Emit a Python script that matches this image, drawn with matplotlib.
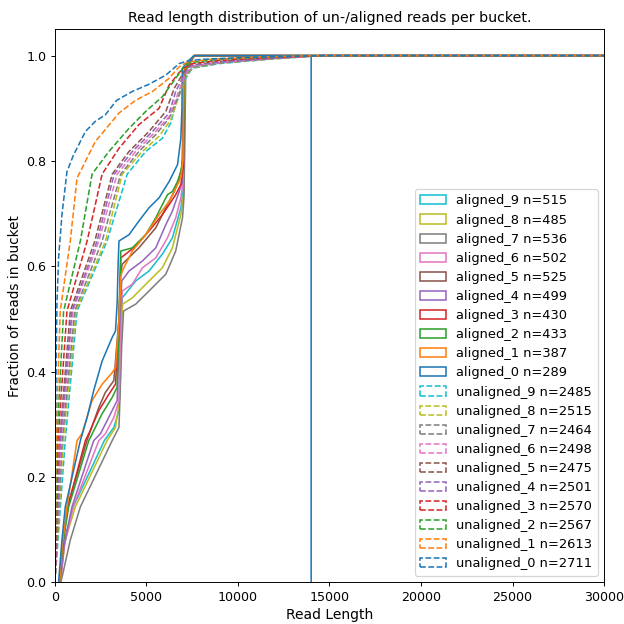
import numpy as np
import matplotlib
matplotlib.use('Agg')
import matplotlib.pyplot as plt
from matplotlib.patches import Patch

# reads per bucket
aligned_n = [289, 387, 433, 430, 499, 525, 502, 536, 485, 515]
unaligned_n = [2711, 2613, 2567, 2570, 2501, 2475, 2498, 2464, 2515, 2485]

# cumulative fraction of reads vs read length
a0_len = [200, 385, 565, 1390, 1760, 2120, 2580, 3130, 3310, 3400, 3450, 3500, 4050, 4590, 5140, 5690, 6240, 6700, 6880, 6940, 6960, 7340, 7600, 14000, 14000]
a0_frac = [0, 0.08, 0.143, 0.269, 0.313, 0.364, 0.420, 0.465, 0.477, 0.53, 0.60, 0.648, 0.660, 0.686, 0.711, 0.730, 0.761, 0.793, 0.843, 0.90, 0.976, 0.992, 1.0, 1.0, 0]
a1_len = [250, 400, 660, 1210, 1480, 2030, 2580, 3130, 3310, 3500, 3600, 3680, 4230, 4960, 5690, 6240, 6700, 6880, 6990, 7050, 7350, 7600, 40000]
a1_frac = [0, 0.07, 0.143, 0.269, 0.282, 0.345, 0.376, 0.398, 0.408, 0.50, 0.58, 0.591, 0.629, 0.660, 0.698, 0.723, 0.755, 0.768, 0.80, 0.97, 0.99, 1.0, 1.0]
a2_len = [250, 420, 750, 1850, 1940, 2580, 3130, 3400, 3500, 3600, 4230, 4960, 5510, 5870, 6150, 6420, 6700, 6880, 7020, 7070, 7400, 7600, 40000]
a2_frac = [0, 0.07, 0.143, 0.269, 0.275, 0.320, 0.351, 0.370, 0.50, 0.629, 0.635, 0.660, 0.692, 0.717, 0.736, 0.742, 0.761, 0.780, 0.81, 0.97, 0.99, 1.0, 1.0]
a3_len = [250, 420, 700, 1665, 1850, 2400, 2950, 3310, 3500, 3600, 4410, 5140, 5870, 6240, 6600, 6880, 7020, 7070, 7400, 7600, 40000]
a3_frac = [0, 0.07, 0.143, 0.269, 0.282, 0.326, 0.357, 0.376, 0.50, 0.616, 0.638, 0.667, 0.698, 0.717, 0.736, 0.755, 0.79, 0.97, 0.99, 1.0, 1.0]
a4_len = [280, 500, 930, 2120, 2490, 3040, 3400, 3550, 3650, 4050, 4780, 5510, 6060, 6420, 6790, 6950, 7080, 7400, 7600, 40000]
a4_frac = [0, 0.07, 0.143, 0.269, 0.282, 0.320, 0.345, 0.50, 0.572, 0.591, 0.610, 0.635, 0.679, 0.705, 0.742, 0.76, 0.97, 0.99, 1.0, 1.0]
a5_len = [250, 420, 680, 1750, 2400, 2750, 3220, 3500, 3600, 3680, 4590, 5510, 6060, 6520, 6790, 6950, 7050, 7400, 7600, 40000]
a5_frac = [0, 0.07, 0.143, 0.269, 0.332, 0.36, 0.383, 0.50, 0.59, 0.604, 0.635, 0.673, 0.711, 0.742, 0.768, 0.79, 0.97, 0.99, 1.0, 1.0]
a6_len = [300, 520, 1000, 2400, 2760, 3220, 3500, 3600, 3680, 4230, 4780, 5510, 6150, 6600, 6880, 7000, 7100, 7400, 7600, 40000]
a6_frac = [0, 0.07, 0.143, 0.269, 0.282, 0.313, 0.345, 0.50, 0.553, 0.566, 0.597, 0.616, 0.654, 0.692, 0.730, 0.76, 0.97, 0.99, 1.0, 1.0]
a7_len = [330, 840, 1390, 3130, 3500, 3650, 3750, 4410, 5140, 6060, 6600, 6970, 7050, 7150, 7450, 7650, 40000]
a7_frac = [0, 0.08, 0.143, 0.269, 0.294, 0.45, 0.515, 0.528, 0.553, 0.585, 0.629, 0.692, 0.73, 0.97, 0.99, 1.0, 1.0]
a8_len = [300, 560, 1115, 2850, 3310, 3550, 3650, 3700, 4230, 5140, 5870, 6420, 6880, 7050, 7120, 7400, 7600, 40000]
a8_frac = [0, 0.08, 0.143, 0.269, 0.294, 0.35, 0.50, 0.528, 0.540, 0.572, 0.597, 0.635, 0.698, 0.74, 0.97, 0.99, 1.0, 1.0]
a9_len = [300, 520, 1000, 2700, 3220, 3500, 3600, 3680, 4410, 5140, 5870, 6420, 6880, 7030, 7100, 7400, 7600, 40000]
a9_frac = [0, 0.08, 0.143, 0.269, 0.294, 0.326, 0.45, 0.540, 0.572, 0.591, 0.623, 0.654, 0.711, 0.75, 0.97, 0.99, 1.0, 1.0]

u0_len = [0, 20, 110, 201, 384, 660, 1000, 1390, 1665, 2200, 2763, 3370, 4227, 5100, 6056, 6790, 7250, 8000, 10000, 13000, 14500, 40000]
u0_frac = [0, 0.27, 0.528, 0.616, 0.698, 0.78, 0.81, 0.837, 0.856, 0.875, 0.888, 0.915, 0.932, 0.945, 0.963, 0.985, 0.990, 0.993, 0.996, 0.999, 1.0, 1.0]
u1_len = [0, 60, 290, 840, 1210, 1390, 2210, 3500, 4400, 5330, 6240, 6790, 7250, 8500, 11000, 14000, 40000]
u1_frac = [0, 0.27, 0.515, 0.648, 0.768, 0.78, 0.837, 0.891, 0.915, 0.932, 0.957, 0.979, 0.988, 0.993, 0.997, 1.0, 1.0]
u2_len = [0, 110, 475, 1390, 2030, 2950, 4050, 4960, 5870, 6600, 7060, 7400, 9000, 12000, 14000, 40000]
u2_frac = [0, 0.27, 0.515, 0.648, 0.775, 0.818, 0.862, 0.894, 0.922, 0.957, 0.979, 0.987, 0.993, 0.998, 1.0, 1.0]
u3_len = [0, 170, 660, 1760, 2580, 3500, 4590, 5690, 6240, 6790, 7150, 7500, 9000, 12000, 14500, 40000]
u3_frac = [0, 0.27, 0.515, 0.648, 0.775, 0.824, 0.869, 0.900, 0.944, 0.968, 0.979, 0.985, 0.991, 0.997, 1.0, 1.0]
u4_len = [0, 290, 930, 2300, 3240, 4230, 5330, 6240, 6600, 7150, 7450, 9000, 12000, 14500, 40000]
u4_frac = [0, 0.27, 0.515, 0.648, 0.775, 0.818, 0.856, 0.891, 0.932, 0.970, 0.981, 0.988, 0.995, 1.0, 1.0]
u5_len = [0, 260, 840, 2180, 3130, 4050, 5140, 6060, 6520, 7060, 7400, 9000, 12000, 14500, 40000]
u5_frac = [0, 0.27, 0.515, 0.648, 0.775, 0.818, 0.856, 0.894, 0.938, 0.970, 0.982, 0.989, 0.996, 1.0, 1.0]
u6_len = [0, 330, 970, 2400, 3400, 4410, 5420, 6240, 6700, 7150, 7500, 9000, 12000, 14500, 40000]
u6_frac = [0, 0.27, 0.515, 0.648, 0.775, 0.818, 0.853, 0.884, 0.926, 0.967, 0.980, 0.987, 0.995, 1.0, 1.0]
u7_len = [0, 400, 1080, 2580, 3590, 4590, 5510, 6240, 6700, 7150, 7500, 9000, 12000, 14500, 40000]
u7_frac = [0, 0.27, 0.515, 0.648, 0.775, 0.818, 0.850, 0.881, 0.919, 0.963, 0.978, 0.986, 0.995, 1.0, 1.0]
u8_len = [0, 460, 1150, 2760, 3680, 4780, 5690, 6330, 6700, 7150, 7500, 9000, 12000, 14500, 40000]
u8_frac = [0, 0.27, 0.515, 0.648, 0.775, 0.818, 0.847, 0.878, 0.916, 0.960, 0.977, 0.986, 0.994, 1.0, 1.0]
u9_len = [0, 565, 1210, 2850, 3950, 4960, 5870, 6330, 6600, 7150, 7500, 9000, 12000, 14500, 40000]
u9_frac = [0, 0.27, 0.515, 0.648, 0.775, 0.818, 0.843, 0.872, 0.907, 0.957, 0.976, 0.985, 0.994, 1.0, 1.0]

aligned = [(a0_len, a0_frac), (a1_len, a1_frac), (a2_len, a2_frac), (a3_len, a3_frac), (a4_len, a4_frac),
           (a5_len, a5_frac), (a6_len, a6_frac), (a7_len, a7_frac), (a8_len, a8_frac), (a9_len, a9_frac)]
unaligned = [(u0_len, u0_frac), (u1_len, u1_frac), (u2_len, u2_frac), (u3_len, u3_frac), (u4_len, u4_frac),
             (u5_len, u5_frac), (u6_len, u6_frac), (u7_len, u7_frac), (u8_len, u8_frac), (u9_len, u9_frac)]

colors = plt.rcParams['axes.prop_cycle'].by_key()['color']

fig = plt.figure(figsize=(7.2, 7.2), dpi=624 / 7.2)
ax = fig.add_axes([0.088, 0.067, 0.88, 0.886])

handles = []
#aligned buckets, solid
for i in range(9, -1, -1):
    x, y = aligned[i]
    ax.plot(x, y, color=colors[i], lw=1.3)
    handles.append(Patch(facecolor='none', edgecolor=colors[i], lw=1.3,
                         label='aligned_%i n=%i' % (i, aligned_n[i])))
#unaligned buckets, dashed
for i in range(9, -1, -1):
    x, y = unaligned[i]
    ax.plot(x, y, color=colors[i], lw=1.3, ls='--')
    handles.append(Patch(facecolor='none', edgecolor=colors[i], lw=1.3, ls='--',
                         label='unaligned_%i n=%i' % (i, unaligned_n[i])))

ax.set_xlim(0, 30000)
ax.set_ylim(0, 1.05)
ax.tick_params(labelsize=10.5)
ax.set_xlabel('Read Length', fontsize=11.5)
ax.set_ylabel('Fraction of reads in bucket', fontsize=11.3)
ax.set_title('Read length distribution of un-/aligned reads per bucket.', fontsize=11.7)
ax.legend(handles=handles, loc='lower right', fontsize=10.8, labelspacing=0.47)

fig.savefig('out.png', dpi=624 / 7.2)
